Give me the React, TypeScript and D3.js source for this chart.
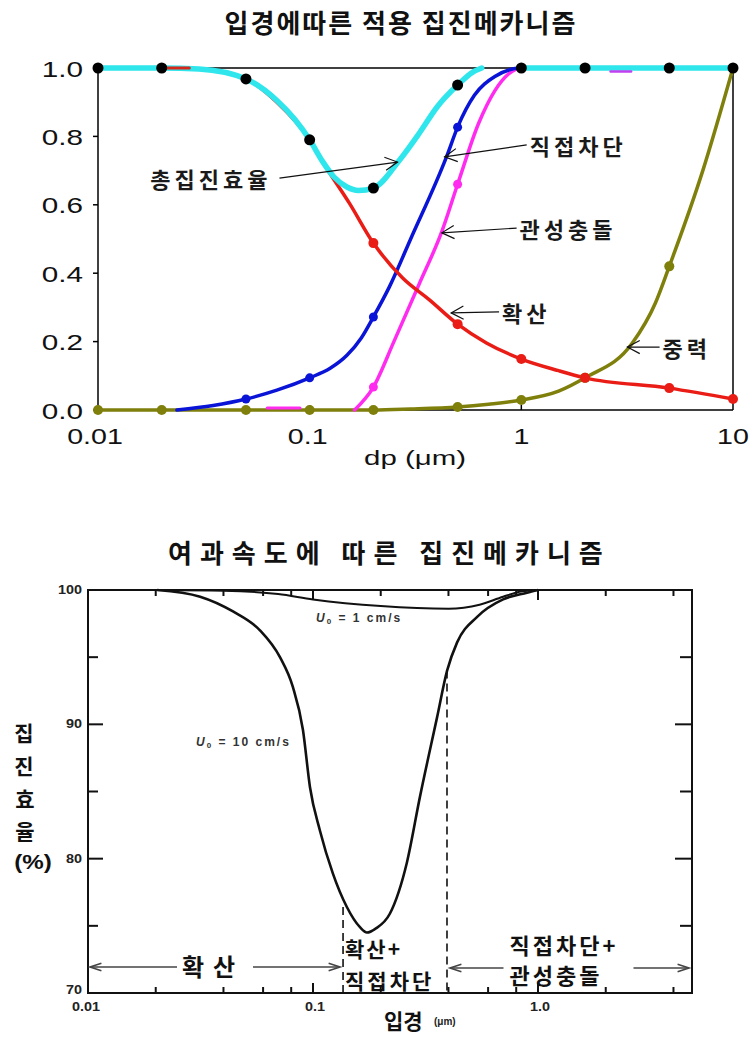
import React from 'react';
import * as d3 from 'd3';

type P = [number, number | null];

// ---------- Top chart data ----------
const topTitle = '입경에따른 적용 집진메카니즘';
const yTicksTop = [0, 0.2, 0.4, 0.6, 0.8, 1.0];
const yTickLabelsTop = ['0.0', '0.2', '0.4', '0.6', '0.8', '1.0'];
const xTicksTop = [0.01, 0.1, 1, 10];
const xTickLabelsTop = ['0.01', '0.1', '1', '10'];

const totalEff: P[] = [
  [0.01, 1], [0.02, 1], [0.03, 0.997], [0.05, 0.968], [0.07, 0.905], [0.085, 0.85], [0.1, 0.79],
  [0.115, 0.727], [0.13, 0.682], [0.15, 0.652], [0.17, 0.642], [0.2, 0.649], [0.266, 0.731],
  [0.33, 0.81], [0.4, 0.886], [0.5, 0.95], [0.59, 0.988], [0.65, 1.0], [0.8, null],
  [1, 1], [2, 1], [5, 1], [10, 1],
];
const totalMarkers: P[] = [
  [0.01, 1], [0.02, 1], [0.05, 0.968], [0.1, 0.79], [0.2, 0.649], [0.5, 0.95],
  [1, 1], [2, 1], [5, 1], [10, 1],
];
const diffusion: P[] = [
  [0.02, 1], [0.03, 0.997], [0.05, 0.968], [0.07, 0.9], [0.1, 0.79], [0.118, 0.715],
  [0.154, 0.605], [0.2, 0.488], [0.275, 0.386], [0.368, 0.322], [0.5, 0.251],
  [0.684, 0.196], [1, 0.149], [1.5, 0.115], [2, 0.094], [5, 0.064], [10, 0.032],
];
const diffusionMarkers: P[] = [[0.2, 0.488], [0.5, 0.251], [1, 0.149], [2, 0.094], [5, 0.064], [10, 0.032]];
const diffusionStub: P[] = [[0.02, 1], [0.027, 1]];

const interception: P[] = [
  [0.0236, 0], [0.035, 0.013], [0.05, 0.032], [0.07, 0.058], [0.1, 0.094], [0.125, 0.122],
  [0.15, 0.16], [0.175, 0.21], [0.2, 0.272], [0.238, 0.36], [0.3, 0.5], [0.443, 0.74],
  [0.5, 0.827], [0.6, 0.92], [0.75, 0.975], [1, 1], [10, 1],
];
const interceptionMarkers: P[] = [[0.05, 0.032], [0.1, 0.094], [0.2, 0.272], [0.5, 0.827]];

const impaction: P[] = [
  [0.163, 0], [0.2, 0.067], [0.25, 0.2], [0.33, 0.37], [0.42, 0.52], [0.5, 0.66],
  [0.63, 0.84], [0.88, 0.985], [1, 1], [10, 1],
];
const impactionMarkers: P[] = [[0.2, 0.067], [0.5, 0.66]];
const impactionStubLow: P[] = [[0.063, 0.006], [0.09, 0.006]];
const impactionStubHigh: P[] = [[2.64, 0.99], [3.3, 0.99]];

const gravity: P[] = [
  [0.01, 0], [0.2, 0], [0.3, 0.003], [0.5, 0.009], [0.7, 0.017], [1, 0.029], [1.5, 0.055],
  [2, 0.094], [3.34, 0.195], [4.3, 0.313], [5, 0.42], [7.2, 0.7], [10, 1],
];
const gravityMarkers: P[] = [
  [0.01, 0], [0.02, 0], [0.05, 0], [0.1, 0], [0.2, 0], [0.5, 0.009], [1, 0.029], [2, 0.094], [5, 0.42],
];

const annotations = [
  { label: '총집진효율', tip: [0.26, 0.725], tail: [0.072, 0.678], side: 'left' },
  { label: '직접차단', tip: [0.434, 0.74], tail: [1.06, 0.775], side: 'right' },
  { label: '관성충돌', tip: [0.421, 0.518], tail: [0.95, 0.532], side: 'right' },
  { label: '확산', tip: [0.466, 0.284], tail: [0.785, 0.287], side: 'right' },
  { label: '중력', tip: [3.17, 0.184], tail: [4.5, 0.184], side: 'right' },
];

// ---------- Bottom chart data ----------
const bottomTitle = '여과속도에 따른 집진메카니즘';
const yTicksBottom = [70, 80, 90, 100];
const yMinorBottom = [75, 85, 95];
const xLabelsBottom = [0.01, 0.1, 1.0];
const xLabelTextBottom = ['0.01', '0.1', '1.0'];
const xTickValsBottom = [0.02, 0.04, 0.06, 0.08, 0.1, 0.2, 0.4, 0.6, 0.8, 1, 2, 4];

const u10: P[] = [
  [0.0203, 100], [0.0315, 99.5], [0.0441, 98.4], [0.0581, 97.0], [0.0713, 95.0], [0.0813, 92.8],
  [0.0902, 89.6], [0.097, 85.3], [0.1073, 82.1], [0.1225, 78.9], [0.1414, 76.4], [0.1617, 74.9],
  [0.1737, 74.5], [0.19, 74.8], [0.2195, 75.9], [0.2613, 79.7], [0.2987, 84.6], [0.3557, 90.5],
  [0.3944, 94.0], [0.437, 96.1], [0.5365, 98.0], [0.6995, 99.3], [0.8933, 99.8], [1.0, 100],
];
const u1: P[] = [
  [0.02, 100], [0.04, 99.95], [0.07, 99.7], [0.1, 99.3], [0.2, 98.8], [0.4, 98.6],
  [0.55, 98.9], [0.7, 99.5], [0.85, 99.9], [1.0, 100],
];
const dividers: P[] = [[0.136, 76.4], [0.394, 94.0]];

const KR = "'Noto Sans CJK KR', 'Noto Sans CJK SC', sans-serif";
const LAT = "'Liberation Sans', Arial, sans-serif";

function chevron(tx: number, ty: number, fx: number, fy: number, len: number, deg: number) {
  const a = Math.atan2(fy - ty, fx - tx);
  const r = (deg * Math.PI) / 180;
  const p1 = [tx + len * Math.cos(a + r), ty + len * Math.sin(a + r)];
  const p2 = [tx + len * Math.cos(a - r), ty + len * Math.sin(a - r)];
  return `M${p1[0]},${p1[1]}L${tx},${ty}L${p2[0]},${p2[1]}`;
}

export default function App() {
  // top scales
  const xT = d3.scaleLog().domain([0.01, 10]).range([98, 733]);
  const yT = d3.scaleLinear().domain([0, 1]).range([410, 68]);
  const lineT = d3
    .line<P>()
    .defined((d) => d[1] !== null)
    .x((d) => xT(d[0]))
    .y((d) => yT(d[1] as number))
    .curve(d3.curveMonotoneX);

  // bottom scales
  const xB = d3.scaleLog().domain([0.01, 4.835]).range([88, 692]);
  const yB = d3.scaleLinear().domain([70, 100]).range([993, 590]);
  const lineB = d3
    .line<P>()
    .x((d) => xB(d[0]))
    .y((d) => yB(d[1] as number))
    .curve(d3.curveMonotoneX);

  const dots = (pts: P[], r: number, fill: string, key: string) =>
    pts.map((d, i) => <circle key={key + i} cx={xT(d[0])} cy={yT(d[1] as number)} r={r} fill={fill} />);

  const leftX0 = xB(0.01) + 2;
  const leftX1 = xB(dividers[0][0]) - 3;
  const leftMid = (leftX0 + leftX1) / 2;
  const rightX0 = xB(dividers[1][0]) + 3;
  const rightX1 = xB(4.835) - 3;
  const rightMid = (rightX0 + rightX1) / 2;
  const arrowY = 967;

  return (
    <svg width={753} height={1037} style={{ position: 'absolute', left: 0, top: 0, background: '#fff' }}>
      <rect x={0} y={0} width={753} height={1037} fill="#fff" />
      {/* ===== Top chart ===== */}
      <text x={401} y={21} textAnchor="middle" dominantBaseline="central" fontFamily={KR} fontWeight={700} fontSize={26} letterSpacing={2} fill="#111">
        {topTitle}
      </text>
      {/* frame */}
      <g stroke="#000" strokeWidth={1.5} fill="none">
        <line x1={xT(0.01)} y1={yT(1)} x2={xT(10)} y2={yT(1)} />
        <line x1={xT(10)} y1={yT(1)} x2={xT(10)} y2={yT(0)} />
        <line x1={xT(0.01)} y1={yT(0)} x2={xT(0.01)} y2={yT(1)} />
        <line x1={xT(0.01)} y1={yT(0)} x2={xT(10)} y2={yT(0)} />
        {yTicksTop.map((v, i) => (
          <line key={'yt' + i} x1={xT(0.01) - 5} x2={xT(0.01)} y1={yT(v)} y2={yT(v)} />
        ))}
        {[0.1, 1].map((v, i) => (
          <line key={'xt' + i} x1={xT(v)} x2={xT(v)} y1={yT(0)} y2={yT(0) - 5} />
        ))}
      </g>
      {yTicksTop.map((v, i) => (
        <text key={'yl' + i} transform={`translate(83,${yT(v) + 1}) scale(1.35,1)`} textAnchor="end" dominantBaseline="central" fontFamily={LAT} fontSize={22} fill="#111">
          {yTickLabelsTop[i]}
        </text>
      ))}
      {xTicksTop.map((v, i) => (
        <text key={'xl' + i} transform={`translate(${xT(v) - (i === 0 ? 3 : i === 1 ? 2 : 0)},${436}) scale(1.3,1)`} textAnchor="middle" dominantBaseline="central" fontFamily={LAT} fontSize={22} fill="#111">
          {xTickLabelsTop[i]}
        </text>
      ))}
      <text transform={`translate(415,458) scale(1.4,1)`} textAnchor="middle" dominantBaseline="central" fontFamily={LAT} fontSize={21} fill="#111">
        dp (μm)
      </text>

      {/* curves */}
      <g fill="none" strokeLinejoin="round" strokeLinecap="round">
        <path d={lineT(gravity) || ''} stroke="#7f7f0c" strokeWidth={3.5} />
        <path d={lineT(impaction) || ''} stroke="#ff2cf0" strokeWidth={3.5} />
        <path d={lineT(interception) || ''} stroke="#0a14d6" strokeWidth={3.5} />
        <path d={lineT(diffusion) || ''} stroke="#ea1c16" strokeWidth={3.5} />
        <path d={lineT(totalEff) || ''} stroke="#2ee6ec" strokeWidth={5.5} />
        <path d={lineT(diffusionStub) || ''} stroke="#d8261a" strokeWidth={3} />
        <path d={lineT(impactionStubLow) || ''} stroke="#ff2cf0" strokeWidth={3} />
        <path d={lineT(impactionStubHigh) || ''} stroke="#c040f0" strokeWidth={2.5} />
      </g>
      {dots(gravityMarkers, 5, '#7f7f0c', 'g')}
      {dots(impactionMarkers, 4.5, '#ff2cf0', 'm')}
      {dots(interceptionMarkers, 4.5, '#0a14d6', 'b')}
      {dots(diffusionMarkers, 5, '#ea1c16', 'r')}
      {dots(totalMarkers, 5.5, '#000', 'k')}

      {/* annotations */}
      {annotations.map((a, i) => {
        const tx = xT(a.tip[0]);
        const ty = yT(a.tip[1]);
        const fx = xT(a.tail[0]);
        const fy = yT(a.tail[1]);
        return (
          <g key={'an' + i}>
            <line x1={fx} y1={fy} x2={tx} y2={ty} stroke="#111" strokeWidth={1.2} />
            <path d={chevron(tx, ty, fx, fy, 14, 28)} stroke="#111" strokeWidth={1.2} fill="none" />
            <text
              x={a.side === 'left' ? fx - 8 : fx + 3}
              y={fy}
              textAnchor={a.side === 'left' ? 'end' : 'start'}
              dominantBaseline="central"
              fontFamily={KR}
              fontWeight={700}
              fontSize={22}
              letterSpacing={4}
              fill="#1a1a1a"
            >
              {a.label}
            </text>
          </g>
        );
      })}

      {/* ===== Bottom chart ===== */}
      <text x={168} y={551} textAnchor="start" dominantBaseline="central" fontFamily={KR} fontWeight={700} fontSize={26} letterSpacing={8} fill="#111">
        {bottomTitle}
      </text>
      <g stroke="#111" strokeWidth={2} fill="none">
        <rect x={xB(0.01)} y={yB(100)} width={xB(4.835) - xB(0.01)} height={yB(70) - yB(100)} />
        {yTicksBottom.slice(1, 3).map((v, i) => (
          <g key={'ybt' + i}>
            <line x1={xB(0.01)} x2={xB(0.01) + 15} y1={yB(v)} y2={yB(v)} />
            <line x1={xB(4.835)} x2={xB(4.835) - 17} y1={yB(v)} y2={yB(v)} />
          </g>
        ))}
        {yMinorBottom.map((v, i) => (
          <g key={'ybm' + i}>
            <line x1={xB(0.01)} x2={xB(0.01) + 10} y1={yB(v)} y2={yB(v)} />
            <line x1={xB(4.835)} x2={xB(4.835) - 12} y1={yB(v)} y2={yB(v)} />
          </g>
        ))}
        {xTickValsBottom.map((v, i) => {
          const major = v === 0.1 || v === 1;
          const len = major ? 10 : 6;
          return (
            <g key={'xbt' + i}>
              <line x1={xB(v)} x2={xB(v)} y1={yB(70)} y2={yB(70) - len} />
              <line x1={xB(v)} x2={xB(v)} y1={yB(100)} y2={yB(100) + len} />
            </g>
          );
        })}
      </g>
      {yTicksBottom.map((v, i) => (
        <text key={'ybl' + i} transform={`translate(82,${yB(v) - (v === 70 ? 3 : 0)}) scale(1.2,1)`} textAnchor="end" dominantBaseline="central" fontFamily={LAT} fontWeight={700} fontSize={12} fill="#222">
          {v}
        </text>
      ))}
      {xLabelsBottom.map((v, i) => (
        <text key={'xbl' + i} transform={`translate(${xB(v) + (i === 0 ? -2 : 2)},1007) scale(1.2,1)`} textAnchor="middle" dominantBaseline="central" fontFamily={LAT} fontWeight={700} fontSize={12} fill="#222">
          {xLabelTextBottom[i]}
        </text>
      ))}

      {/* curves */}
      <g fill="none" stroke="#111" strokeLinejoin="round">
        <path d={lineB(u1) || ''} strokeWidth={2} />
        <path d={lineB(u10) || ''} strokeWidth={2.6} />
      </g>
      {dividers.map((d, i) => (
        <line key={'dv' + i} x1={xB(d[0])} x2={xB(d[0])} y1={yB(d[1] as number)} y2={yB(70)} stroke="#111" strokeWidth={1.6} strokeDasharray="8,5" />
      ))}

      {/* U0 labels */}
      <text x={196} y={742} dominantBaseline="central" fontFamily={LAT} fontWeight={700} fontSize={12} letterSpacing={2} fill="#333">
        <tspan fontStyle="italic">U</tspan>
        <tspan fontSize={8} dy={3}>0</tspan>
        <tspan dy={-3}> = 10 cm/s</tspan>
      </text>
      <text x={316} y={618} dominantBaseline="central" fontFamily={LAT} fontWeight={700} fontSize={12} letterSpacing={2} fill="#333">
        <tspan fontStyle="italic">U</tspan>
        <tspan fontSize={8} dy={3}>0</tspan>
        <tspan dy={-3}> = 1 cm/s</tspan>
      </text>

      {/* region arrows */}
      <g stroke="#444" strokeWidth={1.6} fill="none">
        <line x1={leftX0} x2={leftMid - 38} y1={arrowY} y2={arrowY} />
        <line x1={leftMid + 38} x2={leftX1} y1={arrowY} y2={arrowY} />
        <path d={chevron(leftX0, arrowY, leftX0 + 20, arrowY, 12, 18)} />
        <path d={chevron(leftX1, arrowY, leftX1 - 20, arrowY, 12, 18)} />
        <line x1={rightX0} x2={rightMid - 66} y1={arrowY + 1} y2={arrowY + 1} />
        <line x1={rightMid + 64} x2={rightX1} y1={arrowY + 1} y2={arrowY + 1} />
        <path d={chevron(rightX0, arrowY + 1, rightX0 + 20, arrowY + 1, 12, 18)} />
        <path d={chevron(rightX1, arrowY + 1, rightX1 - 20, arrowY + 1, 12, 18)} />
      </g>
      <g fontFamily={KR} fontWeight={700} fill="#111" dominantBaseline="central">
        <text x={leftMid - 33} y={965} fontSize={24} letterSpacing={9}>확산</text>
        <text x={xB(dividers[0][0]) + 2} y={948} fontSize={21} letterSpacing={2}>확산+</text>
        <text x={xB(dividers[0][0]) + 2} y={980} fontSize={21} letterSpacing={3}>직접차단</text>
        <text x={rightMid - 60} y={944} fontSize={22} letterSpacing={3}>직접차단+</text>
        <text x={rightMid - 60} y={974} fontSize={22} letterSpacing={3}>관성충돌</text>
      </g>

      {/* axis titles */}
      <g fontFamily={KR} fontWeight={700} fill="#111" textAnchor="middle" dominantBaseline="central" fontSize={21}>
        <text x={24} y={732}>집</text>
        <text x={24} y={765}>진</text>
        <text x={25} y={798}>효</text>
        <text x={25} y={830}>율</text>
      </g>
      <text transform="translate(33,862) scale(1.15,1)" textAnchor="middle" dominantBaseline="central" fontFamily={LAT} fontWeight={700} fontSize={21} fill="#111">
        (%)
      </text>
      <text x={384} y={1020} dominantBaseline="central" fontFamily={KR} fontWeight={700} fontSize={21} fill="#111">
        입경
      </text>
      <text x={434} y={1021} dominantBaseline="central" fontFamily={LAT} fontWeight={700} fontSize={10} fill="#222">
        (μm)
      </text>
    </svg>
  );
}
